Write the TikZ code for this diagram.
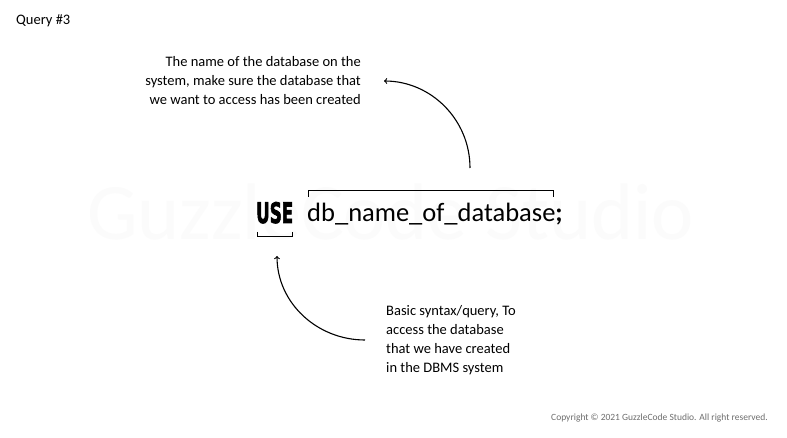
\documentclass[tikz,border=0pt]{standalone}
\usepackage{fontspec}
\setmainfont{Carlito}
\newfontfamily\keyfont{DejaVu Sans Bold}[FakeBold=3]
\usepackage{graphicx}
\usetikzlibrary{arrows}
\usetikzlibrary{positioning,calc}
\definecolor{markgray}{RGB}{251,251,251}
\definecolor{notegray}{RGB}{110,110,110}
\tikzset{
	every node/.style={font=\fontsize{14.5}{19}\selectfont,inner sep=0pt}
}
\tikzset{
	curve arrow/.style={->,>=to,line width=1.1pt,shorten >=1pt},
	brace line/.style={line width=1pt},
	mark text/.style={font=\fontsize{80}{80}\selectfont,text=markgray},
	code text/.style={font=\fontsize{26.5}{30}\selectfont}
}

\begin{document}
\begin{tikzpicture}[x=1pt,y=1pt]
      \useasboundingbox[fill=white] (0,0) rectangle (787,-438);
      \node[mark text,anchor=base west] (mark) at (87,-240) {GuzzleCode Studio};
      \node[anchor=base west] (query) at (16,-25) {Query \#3};
      % query line
      \node[code text,anchor=base east] (dbname) at (563,-222) {db\_name\_of\_database\textbf{;}};
      \node[anchor=base west] (usekw) at (256,-223) {\resizebox{37pt}{21pt}{\keyfont USE}};
      \draw[brace line] (308,-197) -- (308,-191) -- (553,-191) -- (553,-197);
      \draw[brace line] (257,-232) -- (257,-237) -- (292,-237) -- (292,-232);
      % notes
      \node[align=right,anchor=east] (nametext) at (361,-81) {The name of the database on the\\system, make sure the database that\\we want to access has been created};
      \node[align=left,anchor=west] (basictext) at (386,-340) {Basic syntax/query, To\\access the database\\that we have created\\in the DBMS system};
      \coordinate (nametip) at (470,-168);
      \coordinate (usetip) at (277,-255);
      \draw[curve arrow] (nametip) to[out=90,in=0] ([xshift=22]nametext.east);
      \draw[curve arrow] ([xshift=-21]basictext.west) to[out=180,in=-90] (usetip);
      \node[anchor=base east,font=\fontsize{9.5}{11}\selectfont,text=notegray] (copy) at (768,-420) {Copyright © 2021 GuzzleCode Studio. All right reserved.};
    \end{tikzpicture}
\end{document}
